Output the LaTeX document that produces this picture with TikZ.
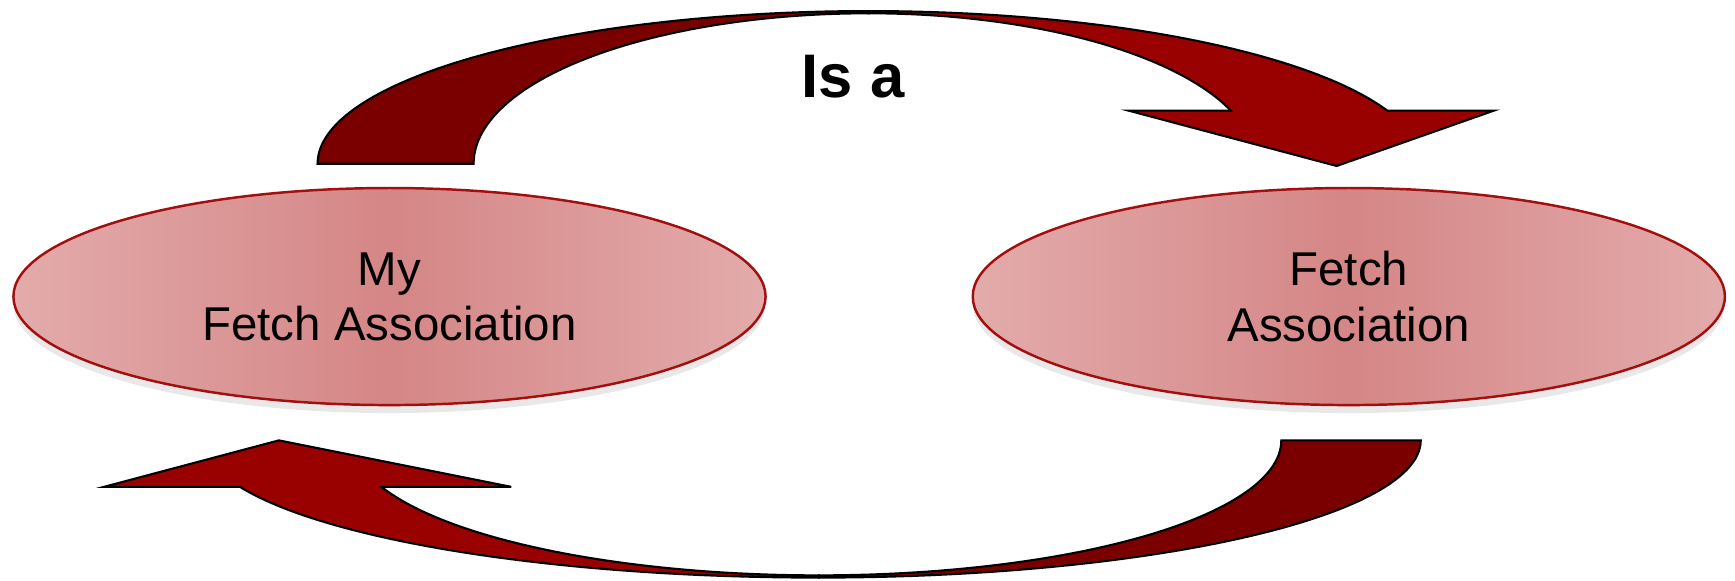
\documentclass[tikz,border=0pt]{standalone}
\usepackage{fontspec}
\setmainfont{Liberation Sans}
\usetikzlibrary{shapes.geometric,shadows}
\definecolor{darkarrow}{HTML}{7A0000}
\definecolor{brightarrow}{HTML}{990000}
\definecolor{ellrim}{HTML}{A30E0E}
\definecolor{ellpale}{HTML}{E3ABAB}
\definecolor{ellmid}{HTML}{D58686}

\tikzset{
  assoc/.style={ellipse, draw=ellrim, line width=0.7pt, minimum width=7.52cm, minimum height=2.17cm,
    inner sep=0pt, align=center, left color=ellpale, right color=ellpale, middle color=ellmid,
    drop shadow={shadow xshift=0pt, shadow yshift=-0.8mm, opacity=0.18},
    font=\fontsize{13.5}{15.7}\selectfont},
  band/.style={draw=black, line width=0.6pt, line join=miter},
}

\begin{document}
\begin{tikzpicture}[x=0.011065cm, y=-0.011065cm]
  \useasboundingbox (0,0) rectangle (1568,525);

  % the two associations
  \node[assoc] (mine) at (352,268) {My\\Fetch Association};
  \node[assoc] (fetch) at (1219,268) {Fetch\\Association};

  % upper curved arrow, tail over the left one
  \filldraw[band, fill=darkarrow]
    plot[domain=180:90, samples=60] ({785+498*cos(\x)},{148-138*sin(\x)})
    -- plot[domain=90:180, samples=60] ({785+357*cos(\x)},{148-136*sin(\x)}) -- cycle;
  \filldraw[band, fill=brightarrow]
    plot[domain=90:20.35, samples=60] ({785+500*cos(\x)},{148-138*sin(\x)})
    -- (1350,100) -- (1208,150) -- (1020,100)
    -- plot[domain=20.67:90, samples=60] ({785+350*cos(\x)},{148-136*sin(\x)}) -- cycle;

  % lower curved arrow, tail under the right one
  \filldraw[band, fill=darkarrow]
    plot[domain=0:90, samples=60] ({740+544*cos(\x)},{398+124*sin(\x)})
    -- plot[domain=90:0, samples=60] ({740+418*cos(\x)},{398+122*sin(\x)}) -- cycle;
  \filldraw[band, fill=brightarrow]
    plot[domain=90:160.2, samples=60] ({740+556*cos(\x)},{398+124*sin(\x)})
    -- (94,440) -- (252,398) -- (462,440)
    -- plot[domain=159.86:90, samples=60] ({740+421*cos(\x)},{398+122*sin(\x)}) -- cycle;

  \node[font=\bfseries\fontsize{17.5}{20}\selectfont, anchor=base] (isa) at (771,88) {Is a};
\end{tikzpicture}
\end{document}
